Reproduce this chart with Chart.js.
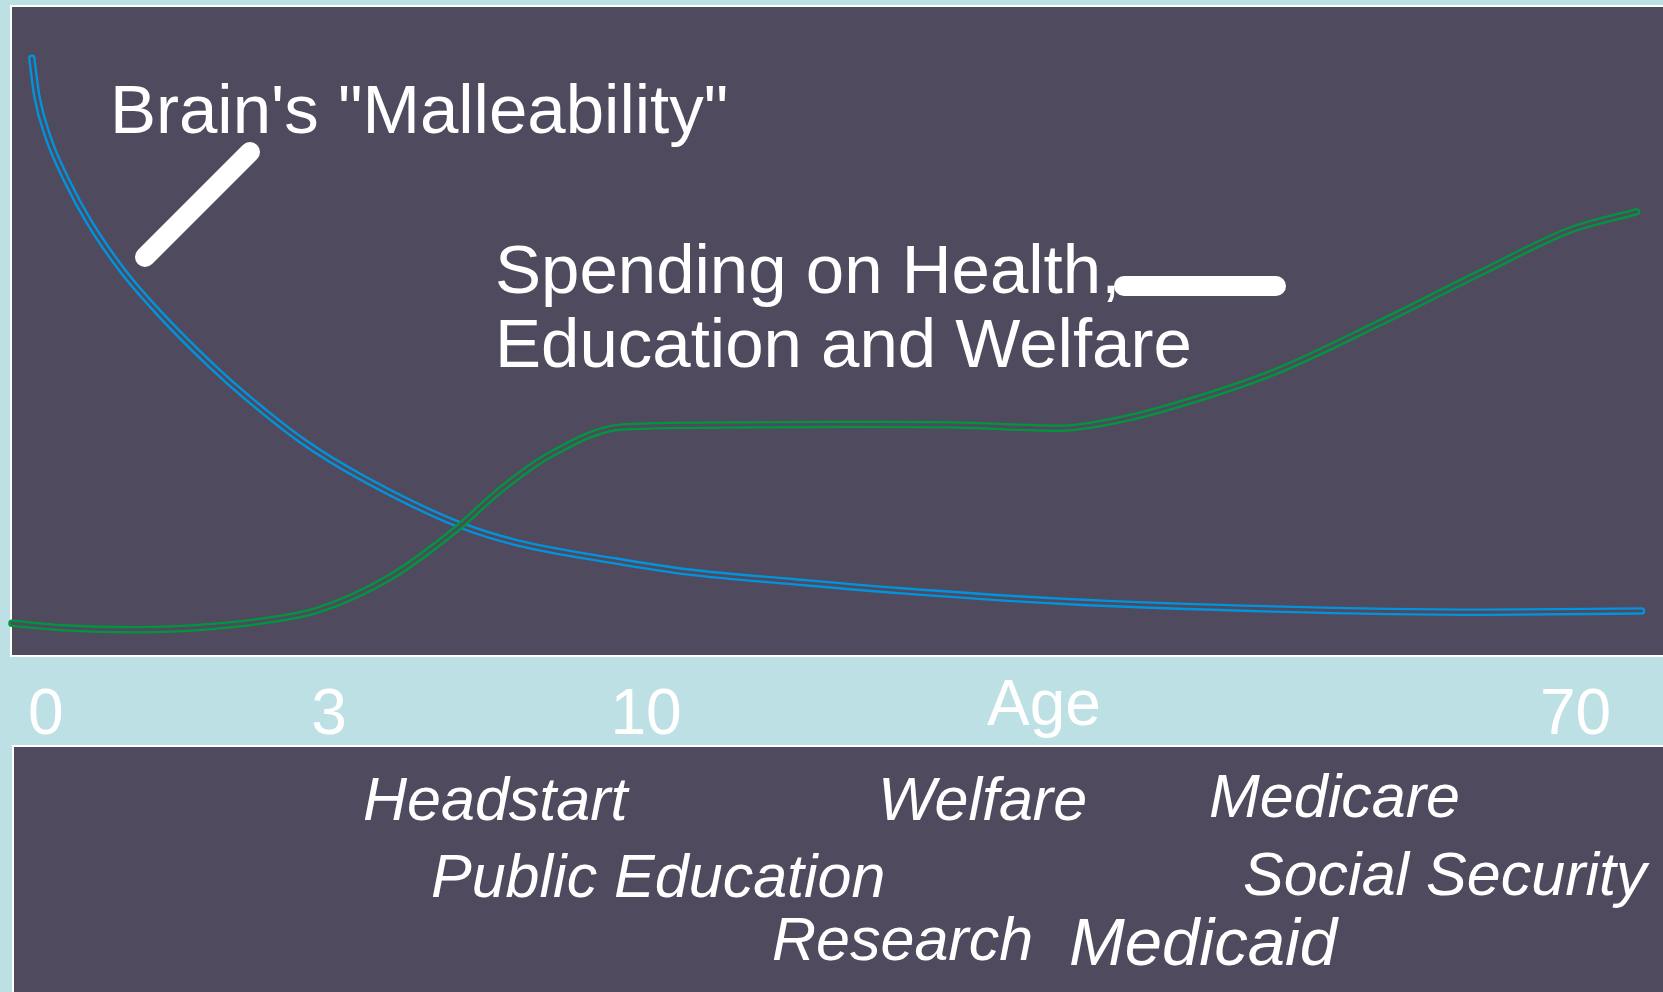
<!DOCTYPE html>
<html>
<head>
<meta charset="utf-8">
<title>Brain malleability and public spending over the life course</title>
<script src="https://cdn.jsdelivr.net/npm/chart.js@4.4.1/dist/chart.umd.min.js"></script>
<style>
  html, body { margin: 0; padding: 0; background: #bce0e3; }
  #wrap { position: relative; width: 1663px; height: 992px; }
</style>
</head>
<body>
<div id="wrap"><canvas id="lifeChart"></canvas></div>
<script>
// Age axis: position along the life course (0-100 across the panel)
const ageTicks = [2.05, 19.2, 38.4, 62.5, 94.7];
const ageLabels = ["0", "3", "10", "Age", "70"];

// Brain's "malleability": steep fall through early childhood, then flat
const brainX = [1.2, 1.5, 2.2, 3.3, 4.7, 6.7, 8.9, 12.1, 14.4, 17.6, 21.1, 27.0, 30.6, 36.6, 41.0, 47.4, 53.9, 63.5, 76.4, 89.2, 98.7];
const brainY = [92.1, 86.3, 79.8, 73.3, 66.7, 59.3, 52.8, 44.6, 39.4, 33.0, 27.5, 20.2, 17.3, 14.5, 12.8, 11.3, 9.9, 8.3, 7.1, 6.6, 6.8];

// Spending on health, education and welfare
const spendX = [0, 3.1, 7.6, 12.1, 15.3, 18.5, 22.9, 27.0, 29.5, 32.6, 37.0, 44.2, 50.7, 57.1, 63.5, 66.7, 69.9, 76.4, 82.8, 89.2, 94.4, 98.4];
const spendY = [4.9, 4.2, 3.9, 4.4, 5.3, 6.9, 12.0, 19.6, 25.3, 30.9, 35.2, 35.5, 35.6, 35.5, 35.0, 36.1, 38.1, 43.6, 51.2, 59.3, 65.6, 68.4];

// Programs listed under the age axis
const programs = ["Headstart", "Welfare", "Medicare", "Public Education", "Social Security", "Research", "Medicaid"];
// [left, baseline, font size]
const programPos = [[363, 820, 61], [878, 820, 61], [1209, 817, 61], [431, 897, 61], [1243, 895, 61], [772, 960, 61], [1069, 965, 67]];

const PAGE = "#bce0e3";
const PANEL = "#4f4a5e";
const BLUE = "#0094df";
const GREEN = "#00963f";
const FONT = "'Liberation Sans', Arial, sans-serif";

const toPoints = (xs, ys) => xs.map((x, i) => ({ x, y: ys[i] }));

// each curve is a thick coloured stroke with a thin panel-coloured core
const outlined = (label, xs, ys, color, order) => {
  const common = {
    data: toPoints(xs, ys),
    pointRadius: 0,
    fill: false,
    cubicInterpolationMode: "monotone",
    borderCapStyle: "round",
    borderJoinStyle: "round",
    clip: false,
  };
  return [
    { ...common, label, borderColor: color, borderWidth: 7.5, order: order + 1 },
    { ...common, label: label + " core", borderColor: PANEL, borderWidth: 2.8, order },
  ];
};

const panels = {
  id: "panels",
  beforeDraw(chart) {
    const { ctx, chartArea: a, width, height } = chart;
    ctx.save();
    ctx.fillStyle = PAGE;
    ctx.fillRect(0, 0, width, height);

    // plot panel with white rim
    ctx.fillStyle = "#ffffff";
    ctx.fillRect(a.left - 2, a.top - 2, a.right - a.left + 2, a.bottom - a.top + 4);
    ctx.fillStyle = PANEL;
    ctx.fillRect(a.left, a.top, a.right - a.left, a.bottom - a.top);

    // program panel below the axis
    const top = a.bottom + 92;
    ctx.fillStyle = "#ffffff";
    ctx.fillRect(a.left, top - 2, width - a.left, height - top + 2);
    ctx.fillStyle = PANEL;
    ctx.fillRect(a.left + 2, top, width - a.left - 2, height - top);
    ctx.restore();
  },
  afterDatasetsDraw(chart) {
    const { ctx } = chart;
    ctx.save();
    ctx.fillStyle = "#ffffff";
    ctx.strokeStyle = "#ffffff";
    ctx.textAlign = "left";
    ctx.textBaseline = "alphabetic";

    ctx.font = `69px ${FONT}`;
    ctx.fillText("Brain's \"Malleability\"", 110, 133);
    ctx.fillText("Spending on Health,", 495, 293);
    ctx.fillText("Education and Welfare", 495, 367);

    ctx.lineCap = "round";
    ctx.lineWidth = 20;
    ctx.beginPath();
    ctx.moveTo(145, 257);
    ctx.lineTo(250, 152);
    ctx.moveTo(1124, 286);
    ctx.lineTo(1276, 286);
    ctx.stroke();

    programs.forEach((name, i) => {
      const [x, y, size] = programPos[i];
      ctx.font = `italic ${size}px ${FONT}`;
      ctx.fillText(name, x, y);
    });
    ctx.restore();
  },
};

new Chart(document.getElementById("lifeChart"), {
  type: "line",
  data: {
    datasets: [
      ...outlined("Spending on Health, Education and Welfare", spendX, spendY, GREEN, 0),
      ...outlined("Brain's \"Malleability\"", brainX, brainY, BLUE, 2),
    ],
  },
  options: {
    responsive: true,
    maintainAspectRatio: false,
    animation: false,
    devicePixelRatio: 1,
    layout: { padding: { left: 12, top: 7, right: 0, bottom: 0 } },
    plugins: {
      legend: { display: false },
      tooltip: { enabled: false },
    },
    scales: {
      x: {
        type: "linear",
        position: "bottom",
        min: 0,
        max: 100,
        grid: { display: false, drawTicks: false },
        border: { display: false },
        afterBuildTicks: (scale) => {
          scale.ticks = ageTicks.map((value) => ({ value }));
        },
        afterFit: (scale) => {
          scale.height = 337;
        },
        ticks: {
          autoSkip: false,
          maxRotation: 0,
          padding: 23,
          color: "#ffffff",
          font: (c) => ({
            family: FONT,
            size: 64,
            lineHeight: ageLabels[c.index] === "Age" ? 0.92 : 1.2,
          }),
          callback: (value, index) => ageLabels[index],
        },
      },
      y: {
        display: false,
        min: 0,
        max: 100,
      },
    },
  },
  plugins: [panels],
});
</script>
</body>
</html>
